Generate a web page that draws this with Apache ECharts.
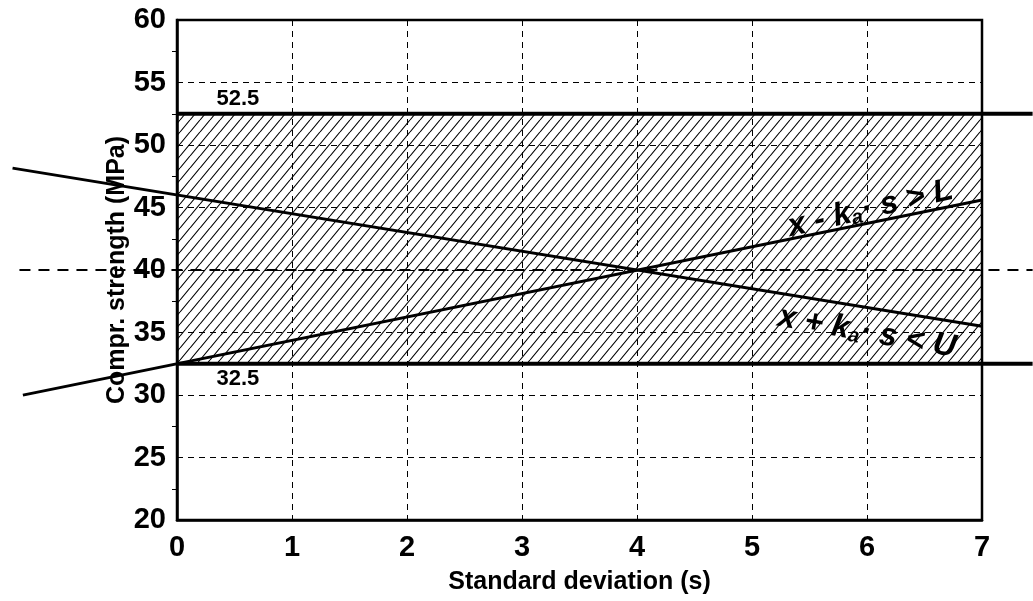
<!DOCTYPE html>
<html>
<head>
<meta charset="utf-8">
<script src="https://cdn.jsdelivr.net/npm/echarts@6/dist/echarts.min.js"></script>
<style>
  html, body { margin: 0; padding: 0; background: #fff; }
  #main { width: 1033px; height: 601px; }
</style>
</head>
<body>
<div id="main"></div>
<script>
var chartDom = document.getElementById('main');
var myChart = echarts.init(chartDom, null, { renderer: 'canvas' });

// values
const upperLimit = 52.5;
const lowerLimit = 32.5;
const meanValue = 40;
const bandX = [0, 7];
const limitLineX = [0, 7.44];
const meanLineX = [-1.37, 7.44];
const upperCheck = [[-1.43, 48.15], [7, 35.5]];   // x + ka.s < U
const lowerCheck = [[-1.34, 29.99], [7, 45.6]];   // x - ka.s > L
const limitLabels = [['52.5', 0.53, 53.7], ['32.5', 0.53, 31.3]];
const formulaLabels = [
    { sign: '-', rel: '>', end: 'L', x: 6.03, y: 44.9, rot: 13 },
    { sign: '+', rel: '<', end: 'U', x: 6.0, y: 35.0, rot: -10 }
];

const font = '"Liberation Sans", Arial, Helvetica, sans-serif';
const W = 1033;
const plot = { left: 177, right: 51, top: 20, bottom: 81 };
// the lines run past the frame, so they sit on a full-width copy of the x scale
const pxPerUnit = (W - plot.left - plot.right) / (bandX[1] - bandX[0]);
const outerMin = bandX[0] - plot.left / pxPerUnit;
const outerMax = bandX[1] + plot.right / pxPerUnit;

// hatch pattern tile
const tile = document.createElement('canvas');
tile.width = 10;
tile.height = 12;
const ctx = tile.getContext('2d');
ctx.strokeStyle = '#000';
ctx.lineWidth = 1.1;
ctx.beginPath();
for (let k = -1; k <= 1; k++) {
    ctx.moveTo(k * 10, 12);
    ctx.lineTo(k * 10 + 10, 0);
}
ctx.stroke();

function hline(x, y) {
    return x.map(v => [v, y]);
}

function lineSeries(data, width, type) {
    return {
        type: 'line',
        xAxisIndex: 1,
        yAxisIndex: 1,
        data: data,
        showSymbol: false,
        symbol: 'none',
        clip: false,
        silent: true,
        z: 5,
        lineStyle: { color: '#000', width: width, type: type || 'solid' }
    };
}

var option = {
    animation: false,
    backgroundColor: '#fff',
    grid: [
        {
            left: plot.left, right: plot.right, top: plot.top, bottom: plot.bottom,
            outerBoundsMode: 'none',
            show: true, borderColor: '#000', borderWidth: 2.5
        },
        { left: 0, right: 0, top: plot.top, bottom: plot.bottom, outerBoundsMode: 'none', show: false }
    ],
    xAxis: [
        {
            type: 'value', min: 0, max: 7, interval: 1,
            name: 'Standard deviation (s)',
            nameLocation: 'middle', nameGap: 50, nameMoveOverlap: false,
            nameTextStyle: { fontFamily: font, fontWeight: 'bold', fontSize: 25, color: '#000' },
            axisLine: { lineStyle: { color: '#000', width: 2.5 } },
            axisTick: { show: false },
            axisLabel: { margin: 13, fontFamily: font, fontWeight: 'bold', fontSize: 29, color: '#000' },
            splitLine: { show: true, lineStyle: { color: '#000', width: 1, type: [6, 5] } }
        },
        { type: 'value', gridIndex: 1, min: outerMin, max: outerMax, show: false, splitLine: { show: false } }
    ],
    yAxis: [
        {
            type: 'value', min: 20, max: 60, interval: 5,
            name: 'Compr. strength (MPa)',
            nameLocation: 'middle', nameGap: 47, nameMoveOverlap: false,
            nameTextStyle: { fontFamily: font, fontWeight: 'bold', fontSize: 25, color: '#000' },
            axisLine: { lineStyle: { color: '#000', width: 2.5 } },
            axisTick: { show: false },
            minorTick: { show: true, splitNumber: 2, length: 5, lineStyle: { color: '#000', width: 1 } },
            axisLabel: { margin: 11, fontFamily: font, fontWeight: 'bold', fontSize: 29, color: '#000' },
            splitLine: { show: true, lineStyle: { color: '#000', width: 1, type: [6, 5] } }
        },
        { type: 'value', gridIndex: 1, min: 20, max: 60, show: false, splitLine: { show: false } }
    ],
    series: [
        {
            type: 'line',
            data: [],
            silent: true,
            markArea: {
                silent: true,
                itemStyle: { color: { image: tile, repeat: 'repeat' } },
                data: [[{ xAxis: bandX[0], yAxis: lowerLimit }, { xAxis: bandX[1], yAxis: upperLimit }]]
            }
        },
        lineSeries(hline(limitLineX, upperLimit), 4),
        lineSeries(hline(limitLineX, lowerLimit), 4),
        lineSeries(hline(meanLineX, meanValue), 2, [11, 8]),
        lineSeries(upperCheck, 3),
        lineSeries(lowerCheck, 3)
    ]
};
option && myChart.setOption(option);

// text annotations placed through the axes
const graphics = [];
limitLabels.forEach(function (l) {
    const p = myChart.convertToPixel({ gridIndex: 0 }, [l[1], l[2]]);
    graphics.push({
        type: 'text', x: p[0], y: p[1], z: 10,
        style: {
            text: l[0], fill: '#000', align: 'center', verticalAlign: 'middle',
            font: 'bold 22px ' + font
        }
    });
});
formulaLabels.forEach(function (f) {
    const p = myChart.convertToPixel({ gridIndex: 0 }, [f.x, f.y]);
    graphics.push({
        type: 'text', x: p[0], y: p[1], z: 10,
        rotation: f.rot * Math.PI / 180,
        style: {
            text: '{m|x ' + f.sign + ' k}{s|a}{m|\u00b7 s ' + f.rel + ' ' + f.end + '}',
            align: 'center', verticalAlign: 'middle',
            rich: {
                m: { fontFamily: font, fontStyle: 'italic', fontWeight: 'bold', fontSize: 32, fill: '#000', verticalAlign: 'bottom' },
                s: { fontFamily: font, fontStyle: 'italic', fontWeight: 'bold', fontSize: 20, fill: '#000', padding: [12, 0, 0, 0], verticalAlign: 'bottom' }
            }
        }
    });
});
myChart.setOption({ graphic: graphics });
</script>
</body>
</html>
